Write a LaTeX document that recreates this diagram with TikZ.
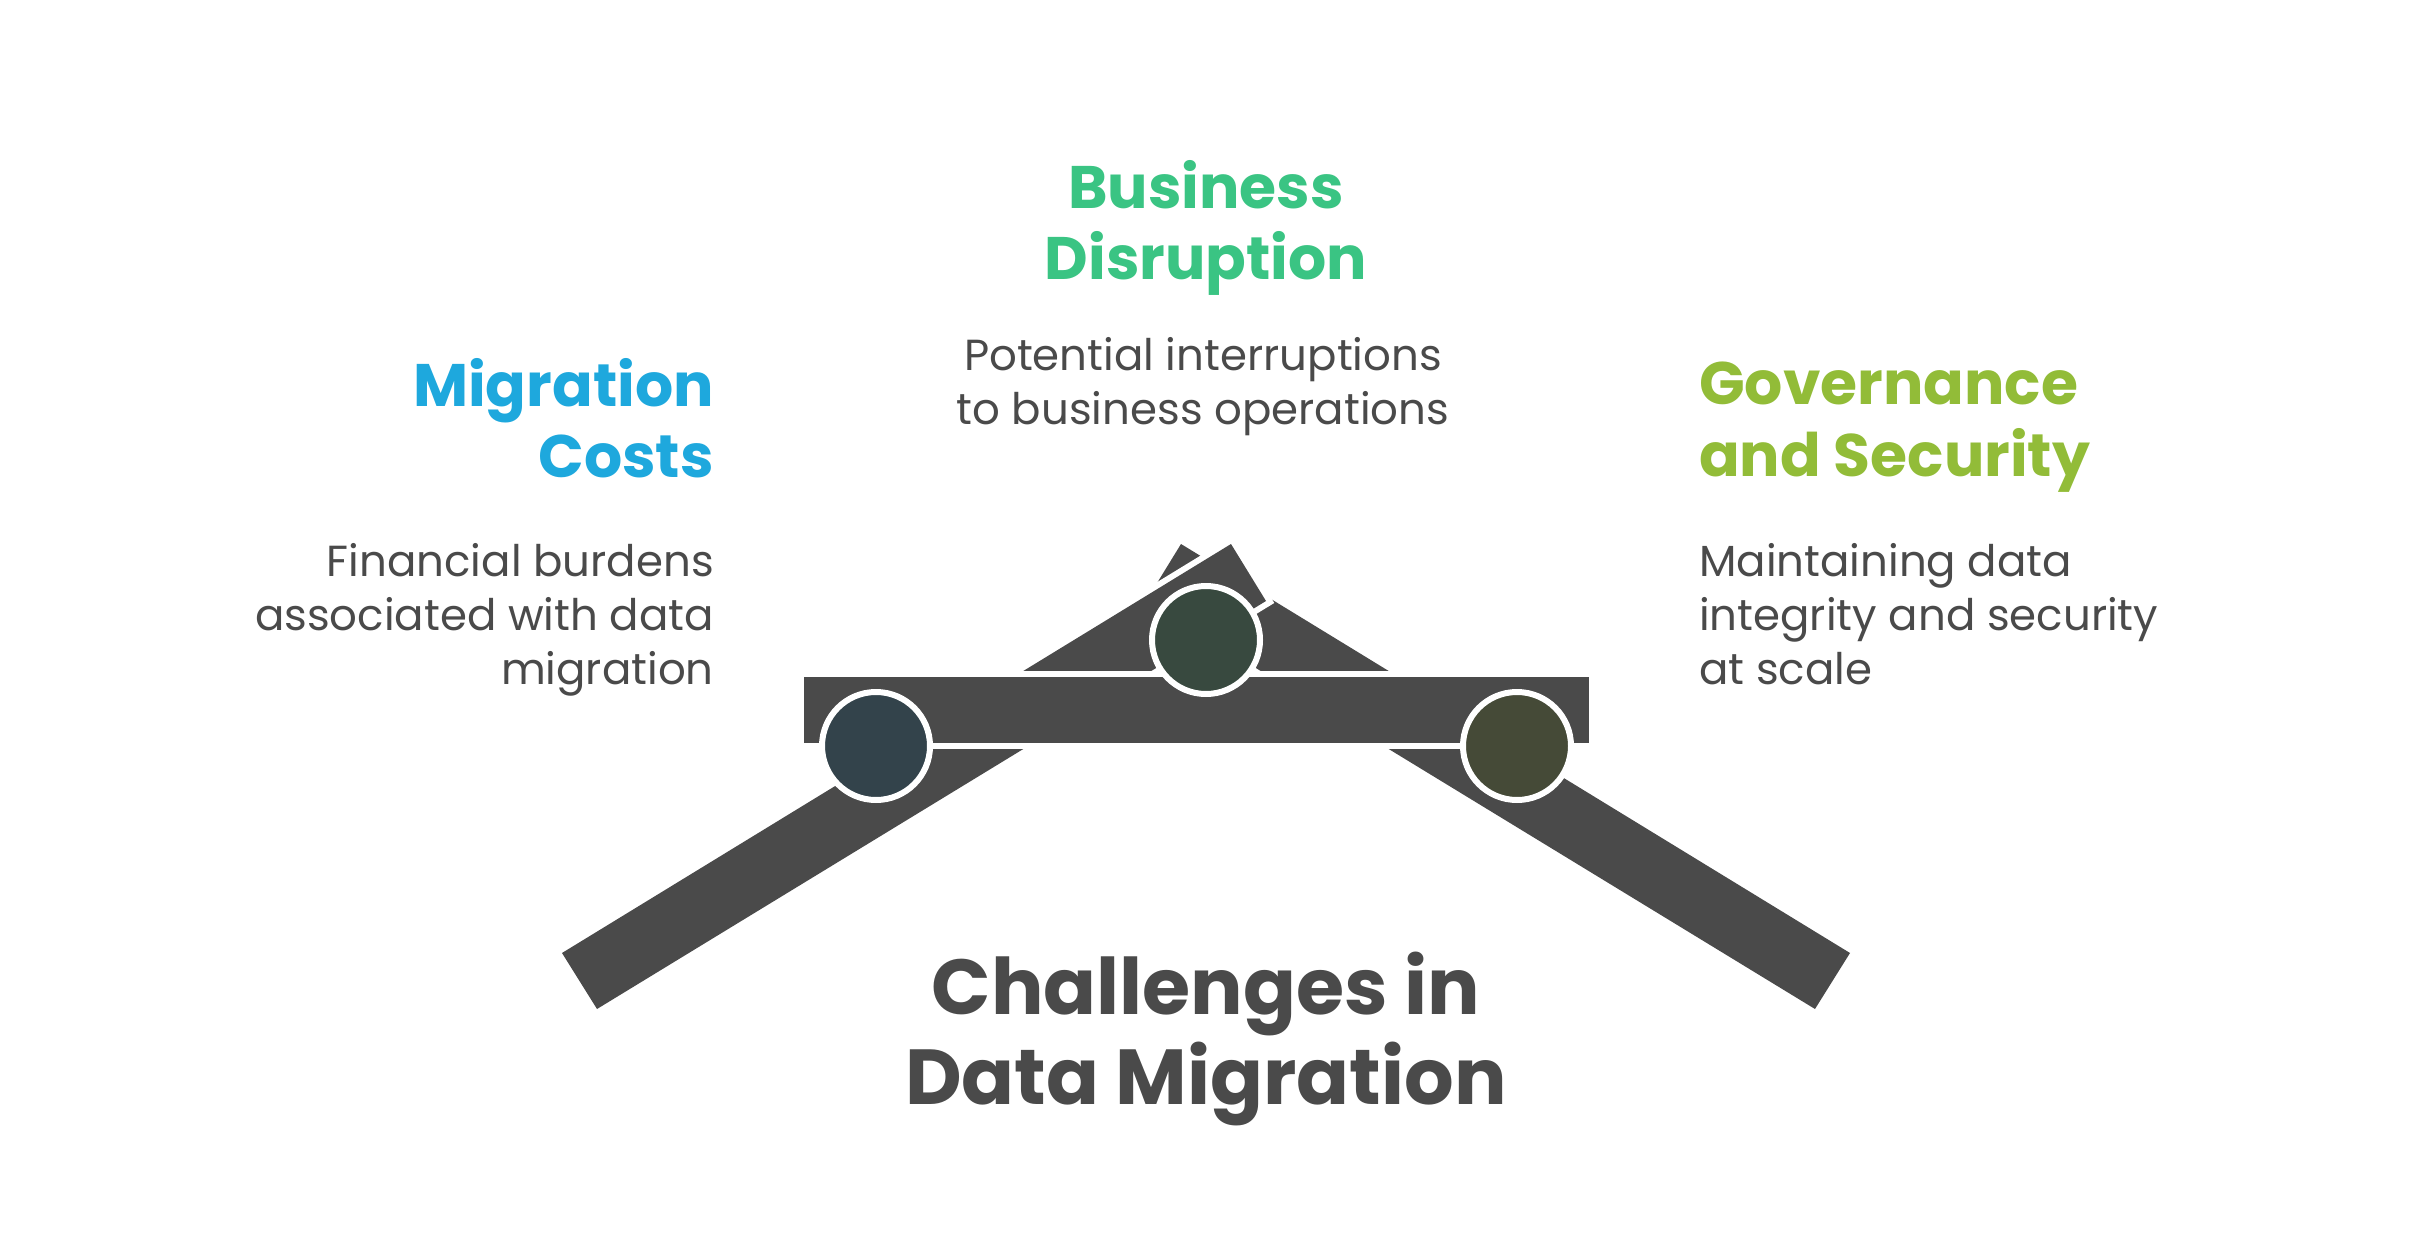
\documentclass[tikz,border=0pt]{standalone}
\usepackage{fontspec}
\setmainfont{Poppins}
\definecolor{beamgray}{HTML}{4A4A4A}
\definecolor{migblue}{HTML}{1EA8DD}
\definecolor{disgreen}{HTML}{3AC483}
\definecolor{govlime}{HTML}{92BC38}
\definecolor{hubblue}{HTML}{33434B}
\definecolor{hubgreen}{HTML}{38493F}
\definecolor{hublime}{HTML}{454A37}
\tikzset{
  beam/.style={fill=beamgray,preaction={draw=white,line width=12pt}},
  hub/.style={circle,draw=white,line width=6pt,minimum size=108pt,inner sep=0pt},
  headtext/.style={inner sep=0pt,font=\fontsize{60}{71.5}\selectfont\bfseries},
  bodytext/.style={inner sep=0pt,text=beamgray,font=\fontsize{43.5}{54}\selectfont},
  titletext/.style={inner sep=0pt,text=beamgray,align=center,font=\fontsize{78}{90}\selectfont\bfseries},
}
\begin{document}
\begin{tikzpicture}[x=1pt,y=1pt,yscale=-1,xscale=1]
\useasboundingbox (0,0) rectangle (2412,1260);
% Beams
\fill[beam] (1850,953) -- (1181,544) -- (1146,601) -- (1815,1009) -- cycle;
\fill[beam] (562,953) -- (1231,544) -- (1266,601) -- (597,1009) -- cycle;
\fill[beam] (804,677) rectangle (1589,743);
% Hubs
\node[hub,fill=hubblue] (hubleft) at (876,746) {};
\node[hub,fill=hubgreen] (hubmid) at (1206,640) {};
\node[hub,fill=hublime] (hubright) at (1517,746) {};
% Text Node
\node[headtext,text=disgreen,align=center,anchor=north] (dishead) at (1206,160) {Business\\Disruption};
% Text Node
\node[bodytext,align=center,anchor=north] (disbody) at (1203,337) {Potential interruptions\\to business operations};
% Text Node
\node[headtext,text=migblue,align=right,anchor=north east] (mighead) at (714,358) {Migration\\Costs};
% Text Node
\node[bodytext,align=right,anchor=north east] (migbody) at (714,543) {Financial burdens\\associated with data\\migration};
% Text Node
\node[headtext,text=govlime,align=left,anchor=north west] (govhead) at (1699,362) {Governance\\and Security};
% Text Node
\node[bodytext,align=left,anchor=north west] (govbody) at (1699,543) {Maintaining data\\integrity and security\\at scale};
% Text Node
\node[titletext,anchor=north] (maintitle) at (1206,952) {Challenges in\\Data Migration};
\end{tikzpicture}
\end{document}
